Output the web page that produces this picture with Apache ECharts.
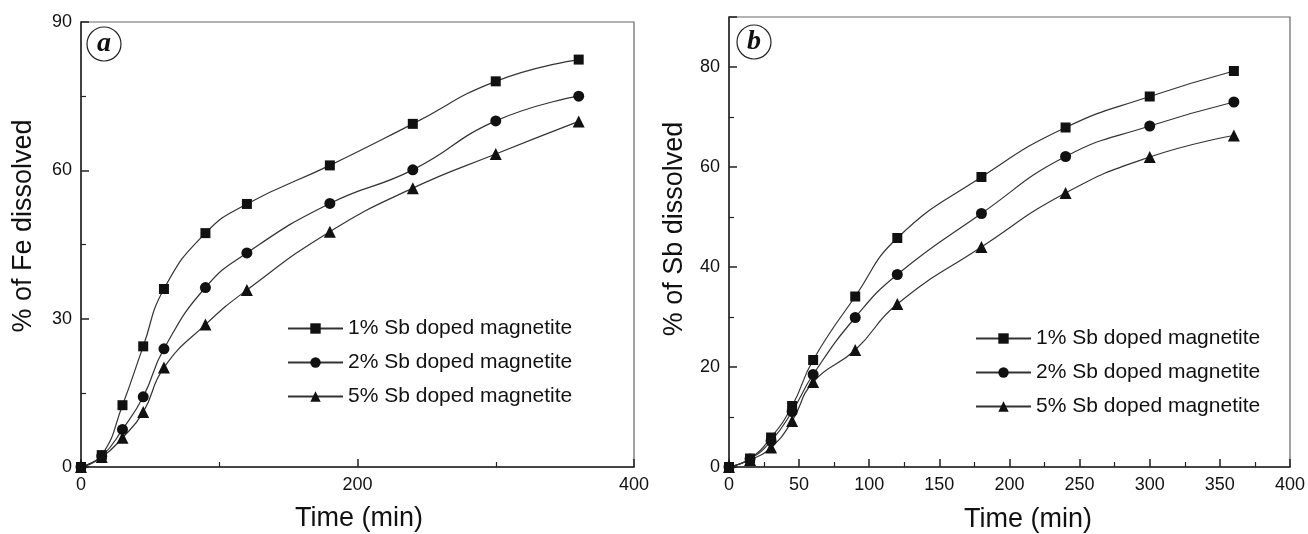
<!DOCTYPE html>
<html>
<head>
<meta charset="utf-8">
<script src="https://cdn.jsdelivr.net/npm/echarts@6/dist/echarts.min.js"></script>
<style>
html,body{margin:0;padding:0;background:#fff;}
#chart{width:1308px;height:534px;}
</style>
</head>
<body>
<div id="chart"></div>
<script>
// ---- data ----
const times = [0, 15, 30, 45, 60, 90, 120, 180, 240, 300, 360];
const seriesNames = ['1% Sb doped magnetite', '2% Sb doped magnetite', '5% Sb doped magnetite'];
const feDoped1 = [0, 2.4, 12.5, 24.4, 36.0, 47.3, 53.2, 61.0, 69.4, 78.0, 82.4];
const feDoped2 = [0, 2.2, 7.6, 14.2, 23.9, 36.3, 43.3, 53.3, 60.1, 70.0, 75.0];
const feDoped5 = [0, 2.0, 5.9, 11.1, 20.1, 28.8, 35.8, 47.6, 56.4, 63.3, 69.9];
const sbDoped1 = [0, 1.7, 5.9, 12.2, 21.4, 34.1, 45.8, 58.0, 67.9, 74.1, 79.2];
const sbDoped2 = [0, 1.6, 5.2, 11.1, 18.5, 29.9, 38.5, 50.7, 62.1, 68.2, 73.0];
const sbDoped5 = [0, 1.4, 3.9, 9.2, 17.0, 23.4, 32.6, 44.0, 54.8, 62.0, 66.3];
const panelLabels = ['a', 'b'];
const yTitles = ['% of Fe dissolved', '% of Sb dissolved'];
const xTitle = 'Time (min)';

// ---- styling ----
const FONT = '"Liberation Sans", Arial, sans-serif';
const symbols = ['rect', 'circle', 'triangle'];
const symbolSizes = [10, 11, 12];

function pairs(ys) { return times.map((t, i) => [t, ys[i]]); }

function axisCommon(extra) {
  return Object.assign({
    type: 'value',
    axisLine: { show: true, onZero: false, lineStyle: { color: '#222', width: 1.5 } },
    axisTick: { show: true, inside: true, length: 8, lineStyle: { color: '#222', width: 1.5 } },
    minorTick: { show: true, splitNumber: 2, length: 5, lineStyle: { color: '#222', width: 1.2 } },
    splitLine: { show: false },
    minorSplitLine: { show: false }
  }, extra);
}
const labelStyle = { color: '#111', fontFamily: FONT, fontSize: 18, margin: 9 };

function makeSeries(dataSets, idx) {
  return dataSets.map((d, k) => ({
    name: seriesNames[k],
    type: 'line',
    xAxisIndex: idx,
    yAxisIndex: idx,
    data: pairs(d),
    smooth: 0.5,
    symbol: symbols[k],
    symbolSize: symbolSizes[k],
    showAllSymbol: true,
    lineStyle: { color: '#333', width: 1.2 },
    itemStyle: { color: '#111', borderWidth: 0 },
    clip: false,
    animation: false
  }));
}

const chart = echarts.init(document.getElementById('chart'), null, { renderer: 'canvas' });

const legendCommon = {
  orient: 'vertical',
  data: seriesNames,
  itemWidth: 55, itemHeight: 13, itemGap: 13,
  padding: 0,
  textStyle: { color: '#111', fontFamily: FONT, fontSize: 21 },
  selectedMode: false
};

const option = {
  backgroundColor: '#fff',
  animation: false,
  grid: [
    { left: 81, top: 22, width: 553, height: 445, show: true, borderColor: '#666', borderWidth: 1.2, backgroundColor: 'transparent' },
    { left: 729, top: 17, width: 562, height: 450, show: true, borderColor: '#666', borderWidth: 1.2, backgroundColor: 'transparent' }
  ],
  xAxis: [
    axisCommon({ gridIndex: 0, min: 0, max: 400, interval: 200, axisLabel: labelStyle }),
    axisCommon({ gridIndex: 1, min: 0, max: 400, interval: 50, axisLabel: labelStyle })
  ],
  yAxis: [
    axisCommon({ gridIndex: 0, min: 0, max: 90, interval: 30, axisLabel: labelStyle }),
    axisCommon({ gridIndex: 1, min: 0, max: 90, interval: 20, axisLabel: Object.assign({ showMaxLabel: false }, labelStyle) })
  ],
  legend: [
    Object.assign({ left: 287, top: 318 }, legendCommon),
    Object.assign({ left: 975, top: 328 }, legendCommon)
  ],
  series: makeSeries([feDoped1, feDoped2, feDoped5], 0).concat(makeSeries([sbDoped1, sbDoped2, sbDoped5], 1)),
  graphic: [
    { type: 'circle', shape: { cx: 104, cy: 44, r: 17 }, style: { fill: 'none', stroke: '#222', lineWidth: 1.2 } },
    { type: 'text', x: 104, y: 44, style: { text: panelLabels[0], font: 'italic bold 28px "Liberation Serif", serif', fill: '#111', textAlign: 'center', textVerticalAlign: 'middle' } },
    { type: 'circle', shape: { cx: 754, cy: 42, r: 17 }, style: { fill: 'none', stroke: '#222', lineWidth: 1.2 } },
    { type: 'text', x: 754, y: 42, style: { text: panelLabels[1], font: 'italic bold 28px "Liberation Serif", serif', fill: '#111', textAlign: 'center', textVerticalAlign: 'middle' } },
    { type: 'text', x: 24, y: 226, rotation: Math.PI / 2, style: { text: yTitles[0], font: '27px "Liberation Sans", Arial, sans-serif', fill: '#111', textAlign: 'center', textVerticalAlign: 'middle' } },
    { type: 'text', x: 675, y: 229, rotation: Math.PI / 2, style: { text: yTitles[1], font: '27px "Liberation Sans", Arial, sans-serif', fill: '#111', textAlign: 'center', textVerticalAlign: 'middle' } },
    { type: 'text', x: 359, y: 519, style: { text: xTitle, font: '27px "Liberation Sans", Arial, sans-serif', fill: '#111', textAlign: 'center', textVerticalAlign: 'middle' } },
    { type: 'text', x: 1028, y: 520, style: { text: xTitle, font: '27px "Liberation Sans", Arial, sans-serif', fill: '#111', textAlign: 'center', textVerticalAlign: 'middle' } }
  ]
};
chart.setOption(option);
</script>
</body>
</html>
